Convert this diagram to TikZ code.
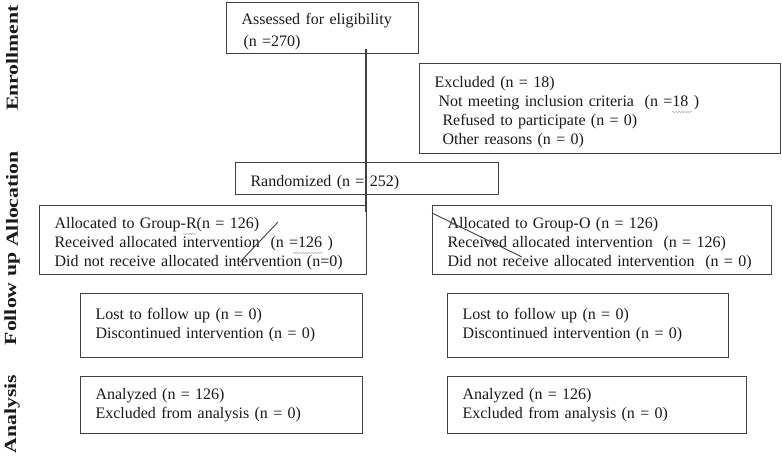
\documentclass[tikz,border=0pt]{standalone}
\usepackage{fontspec}
\setmainfont{Liberation Serif}
\newfontfamily\stagefont[FakeStretch=1.28]{Liberation Serif}
\usetikzlibrary{positioning, decorations.pathmorphing}

\begin{document}
\begin{tikzpicture}[x=1pt, y=-1pt,
    box/.style={rectangle, draw=black!75, line width=1.1pt, anchor=north west,
                align=left, inner xsep=15pt, inner ysep=0pt, text=black!90,
                font=\fontsize{16}{19}\selectfont},
    lowered/.style={execute at begin node={\rule{0pt}{19pt}}},
    stage/.style={rotate=90, text=black!90, font=\stagefont\fontsize{17}{20}\selectfont\bfseries},
    squiggle/.style={draw=gray!60, line width=0.5pt, decorate,
                decoration={snake, amplitude=0.7pt, segment length=3pt}}]
    \useasboundingbox (0,0) rectangle (782,456);

    % Stages
    \node[stage] (enrol) at (12, 58) {Enrollment};
    \node[stage] (alloc) at (12, 199) {Allocation};
    \node[stage] (follow) at (12, 299) {Follow up};
    \node[stage] (analys) at (12, 414) {Analysis};

    % Enrollment
    \node[box, lowered, minimum width=192, minimum height=51, text width=162pt] (assess) at (226, 2)
        {Assessed for eligibility\\[3pt]\hspace*{2pt}(n =270)};
    \node[box, lowered, minimum width=361, minimum height=90, text width=331pt] (excl) at (419, 63)
        {Excluded (n = 18)\\
         \hspace*{4pt}Not meeting inclusion criteria\ \ (n =18 )\\
         \hspace*{8pt}Refused to participate (n = 0)\\
         \hspace*{8pt}Other reasons (n = 0)};

    % Allocation
    \node[box, lowered, minimum width=263, minimum height=32, text width=233pt] (rand) at (235, 162)
        {Randomized (n = 252)};
    \node[box, lowered, minimum width=327, minimum height=69, text width=297pt] (groupR) at (39, 205)
        {Allocated to Group-R(n = 126)\\
         Received allocated intervention\ \ (n =126 )\\
         Did not receive allocated intervention (n=0)};
    \node[box, lowered, minimum width=339, minimum height=69, text width=309pt] (groupO) at (432, 205)
        {Allocated to Group-O (n = 126)\\
         Received allocated intervention\ \ (n = 126)\\
         Did not receive allocated intervention\ \ (n = 0)};

    % Follow up
    \node[box, minimum width=282, minimum height=64, text width=252pt] (followR) at (80, 293)
        {Lost to follow up (n = 0)\\Discontinued intervention (n = 0)};
    \node[box, minimum width=281, minimum height=64, text width=251pt] (followO) at (447, 293)
        {Lost to follow up (n = 0)\\Discontinued intervention (n = 0)};

    % Analysis
    \node[box, minimum width=282, minimum height=57, text width=252pt] (analysR) at (80, 376)
        {Analyzed (n = 126)\\Excluded from analysis (n = 0)};
    \node[box, minimum width=299, minimum height=57, text width=269pt] (analysO) at (447, 376)
        {Analyzed (n = 126)\\Excluded from analysis (n = 0)};

    % Connectors
    \coordinate (trunkTop) at (366, 49);
    \coordinate (trunkEnd) at (366, 212);
    \draw[black!75, line width=1.1pt] (trunkTop) -- (trunkEnd);
    \coordinate (armRa) at (278, 222);
    \coordinate (armRb) at (240, 262);
    \draw[black!75, line width=0.9pt] (armRa) -- (armRb);
    \coordinate (armOa) at (432, 213);
    \coordinate (armOb) at (522, 257);
    \draw[black!75, line width=0.9pt] (armOa) -- (armOb);

    % Spelling marks
    \draw[squiggle] (672, 112) -- (692, 112);
    \draw[squiggle] (183, 234) -- (196, 234);
    \draw[squiggle] (293, 253) -- (323, 253);
\end{tikzpicture}
\end{document}
